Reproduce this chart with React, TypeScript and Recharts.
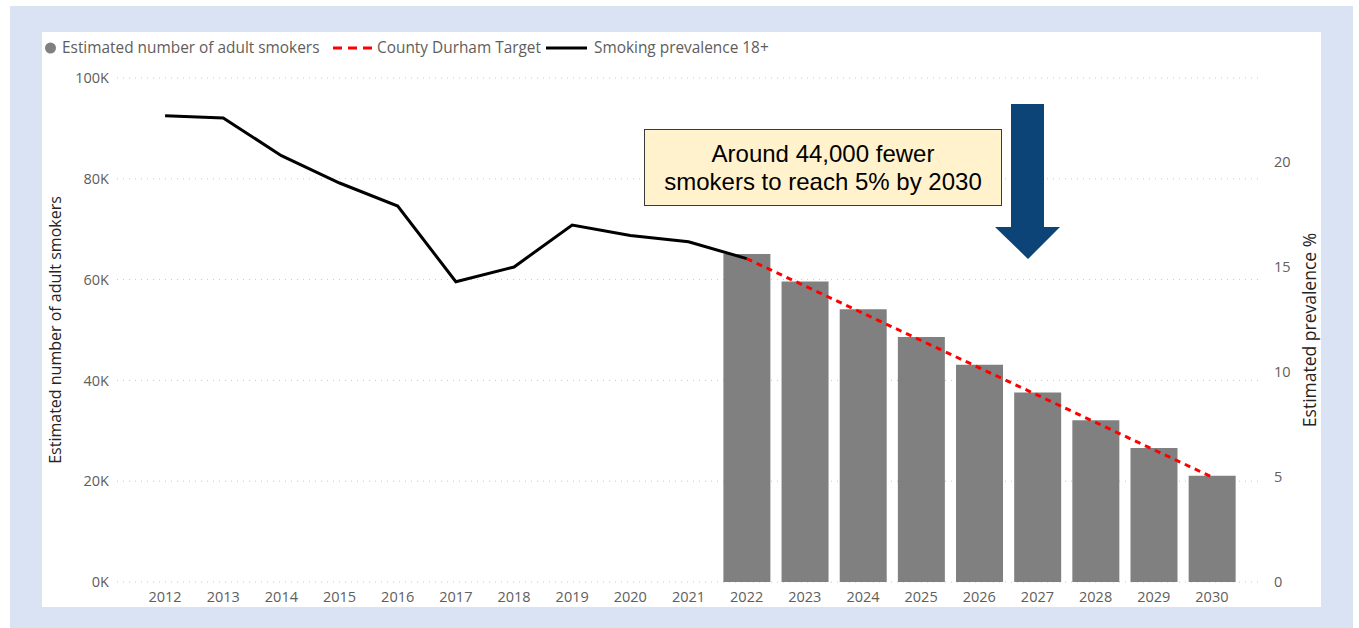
import {
  Bar,
  CartesianGrid,
  ComposedChart,
  Line,
  XAxis,
  YAxis,
} from "recharts";

const years = [
  "2012", "2013", "2014", "2015", "2016", "2017", "2018", "2019", "2020", "2021",
  "2022", "2023", "2024", "2025", "2026", "2027", "2028", "2029", "2030",
];

// estimated number of adult smokers (projection years only)
const smokers = [
  null, null, null, null, null, null, null, null, null, null,
  65100, 59600, 54100, 48600, 43100, 37600, 32100, 26600, 21100,
];

// smoking prevalence 18+ (%)
const prevalence = [
  22.2, 22.1, 20.3, 19.0, 17.9, 14.3, 15.0, 17.0, 16.5, 16.2,
  15.4, null, null, null, null, null, null, null, null,
];

// County Durham target path (%)
const target = [
  null, null, null, null, null, null, null, null, null, null,
  15.4, 14.1, 12.8, 11.5, 10.2, 8.9, 7.6, 6.3, 5.0,
];

const leftTicks = [0, 20000, 40000, 60000, 80000, 100000];
const rightTicks = [0, 5, 10, 15, 20];

const legendItems = [
  { label: "Estimated number of adult smokers", kind: "dot", color: "#808080", iconX: 45, textX: 62 },
  { label: "County Durham Target", kind: "dash", color: "#ff0000", iconX: 333, textX: 377 },
  { label: "Smoking prevalence 18+", kind: "line", color: "#000000", iconX: 546, textX: 594 },
];

const data = years.map((year, i) => ({
  year,
  smokers: smokers[i],
  prevalence: prevalence[i],
  target: target[i],
}));

const font = "'Open Sans', 'Noto Sans', sans-serif";
const gray = "#605e5c";

function ChartLegend() {
  return (
    <div style={{ position: "absolute", left: 0, top: 36, width: 800, height: 24, fontFamily: font, fontSize: 15.4, color: gray }}>
      {legendItems.map((it) => (
        <div key={it.label}>
          <svg width={44} height={24} style={{ position: "absolute", left: it.iconX, top: 0 }}>
            {it.kind === "dot" && <circle cx={5.5} cy={12} r={5.5} fill={it.color} />}
            {it.kind === "dash" && (
              <line x1={0} y1={12} x2={39} y2={12} stroke={it.color} strokeWidth={3} strokeDasharray="9 6" />
            )}
            {it.kind === "line" && <line x1={0} y1={12} x2={41} y2={12} stroke={it.color} strokeWidth={3} />}
          </svg>
          <span style={{ position: "absolute", left: it.textX, top: 0, lineHeight: "24px", whiteSpace: "nowrap" }}>
            {it.label}
          </span>
        </div>
      ))}
    </div>
  );
}

export default function App() {
  return (
    <div style={{ position: "absolute", left: 0, top: 0, width: 1359, height: 628, background: "#ffffff", overflow: "hidden" }}>
      <div style={{ position: "absolute", left: 10, top: 6, width: 1343, height: 622, background: "#dae3f3" }} />
      <div style={{ position: "absolute", left: 42, top: 32, width: 1279, height: 575, background: "#ffffff" }} />

      <div style={{ position: "absolute", left: 0, top: 0 }}>
        <ComposedChart
          width={1359}
          height={628}
          data={data}
          margin={{ top: 78, right: 50, bottom: 16, left: 57 }}
          barCategoryGap="10%"
        >
          <CartesianGrid yAxisId="left" vertical={false} stroke="#c8c6c4" strokeDasharray="1 5" />
          <XAxis
            dataKey="year"
            tickLine={false}
            axisLine={false}
            height={30}
            padding={{ left: 19, right: 18 }}
            tick={{ fill: gray, fontSize: 14.5, fontFamily: font, dy: 2 }}
            interval={0}
          />
          <YAxis
            yAxisId="left"
            width={60}
            domain={[0, 100000]}
            ticks={leftTicks}
            tickFormatter={(v: number) => `${v / 1000}K`}
            tickLine={false}
            axisLine={false}
            tick={{ fill: gray, fontSize: 14.5, fontFamily: font }}
          />
          <YAxis
            yAxisId="right"
            orientation="right"
            width={50}
            domain={[0, 24]}
            ticks={rightTicks}
            tickLine={false}
            axisLine={false}
            tickMargin={9}
            tick={{ fill: gray, fontSize: 14.5, fontFamily: font, textAnchor: "start" }}
          />
          <Bar yAxisId="left" dataKey="smokers" name="Estimated number of adult smokers" fill="#808080" isAnimationActive={false} />
          <Line
            yAxisId="right"
            dataKey="target"
            name="County Durham Target"
            stroke="#ff0000"
            strokeWidth={3}
            strokeDasharray="6 5"
            dot={false}
            activeDot={false}
            isAnimationActive={false}
          />
          <Line
            yAxisId="right"
            dataKey="prevalence"
            name="Smoking prevalence 18+"
            stroke="#000000"
            strokeWidth={3}
            dot={false}
            activeDot={false}
            isAnimationActive={false}
          />
        </ComposedChart>
      </div>

      <ChartLegend />

      <svg width={1359} height={628} style={{ position: "absolute", left: 0, top: 0, pointerEvents: "none" }}>
        <text
          transform="translate(61, 330) rotate(-90)"
          textAnchor="middle"
          fontFamily={font}
          fontSize={16}
          fill="#252423"
        >
          Estimated number of adult smokers
        </text>
        <text
          transform="translate(1316, 330) rotate(-90)"
          textAnchor="middle"
          fontFamily={font}
          fontSize={17.5}
          fill="#252423"
        >
          Estimated prevalence %
        </text>
        <polygon
          points="1011,104 1044,104 1044,227 1060,227 1028,259 995,227 1011,227"
          fill="#0d4478"
        />
      </svg>

      <div
        style={{
          position: "absolute",
          left: 644,
          top: 129,
          width: 358,
          height: 77,
          boxSizing: "border-box",
          background: "#fff2cc",
          border: "1.5px solid #3a3a3a",
          fontFamily: "'Liberation Sans', Arial, sans-serif",
          fontSize: 24,
          lineHeight: "28px",
          textAlign: "center",
          paddingTop: 10,
          color: "#000000",
          whiteSpace: "nowrap",
        }}
      >
        Around 44,000 fewer
        <br />
        smokers to reach 5% by 2030
      </div>
    </div>
  );
}
